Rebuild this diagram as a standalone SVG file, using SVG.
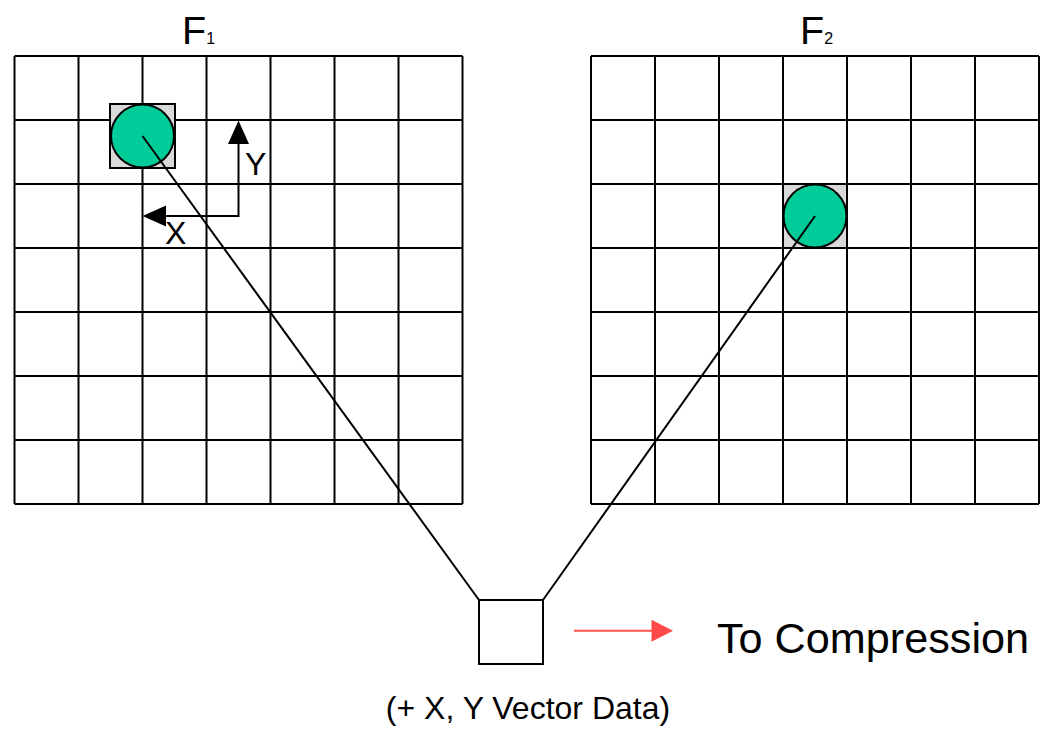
<svg xmlns="http://www.w3.org/2000/svg" width="1041" height="729" viewBox="0 0 1041 729">
<style>
.grid{stroke:#000;stroke-width:2;fill:none}
.cell{fill:#d9d9d9;stroke:#000;stroke-width:2}
.blob{fill:#00cc99;stroke:#000;stroke-width:2}
.conn{stroke:#000;stroke-width:2;fill:none}
text{font-family:"Liberation Sans",Arial,sans-serif;fill:#000}
</style>
<rect width="1041" height="729" fill="#fff"/>
<g id="frame1">
<path class="grid" d="M14.5 56H462.5M14.5 120H462.5M14.5 184H462.5M14.5 248H462.5M14.5 312H462.5M14.5 376H462.5M14.5 440H462.5M14.5 504H462.5M14.5 56V504M78.5 56V504M142.5 56V504M206.5 56V504M270.5 56V504M334.5 56V504M398.5 56V504M462.5 56V504"/>
<text x="182" y="44" font-size="39.5">F<tspan font-size="16">1</tspan></text>
<rect class="cell" x="110" y="104" width="65" height="64"/>
<circle class="blob" cx="142.5" cy="136" r="31.5"/>
</g>
<g id="frame2">
<path class="grid" d="M591 56H1039M591 120H1039M591 184H1039M591 248H1039M591 312H1039M591 376H1039M591 440H1039M591 504H1039M591 56V504M655 56V504M719 56V504M783 56V504M847 56V504M911 56V504M975 56V504M1039 56V504"/>
<text x="800" y="44" font-size="39.5">F<tspan font-size="16">2</tspan></text>
<rect class="cell" x="783" y="184" width="64" height="64"/>
<circle class="blob" cx="815" cy="216" r="31.5"/>
</g>
<g id="axes">
<path class="conn" d="M238.5 143V216H165"/>
<polygon points="238.5,120.5 228,144 249,144" fill="#000"/>
<polygon points="142.5,216 166,205.5 166,226.5" fill="#000"/>
<text x="245" y="175" font-size="32">Y</text>
<text x="165" y="244" font-size="32">X</text>
</g>
<g id="connectors">
<line class="conn" x1="142.5" y1="136" x2="479" y2="600"/>
<line class="conn" x1="815" y1="216" x2="543" y2="600"/>
</g>
<g id="vector">
<rect x="479" y="600" width="64" height="64" fill="#fff" stroke="#000" stroke-width="2"/>
<text x="528" y="718.5" font-size="32" text-anchor="middle">(+ X, Y Vector Data)</text>
</g>
<g id="output">
<line x1="574" y1="630.7" x2="653" y2="630.7" stroke="#ff5050" stroke-width="2"/>
<polygon points="673,630.7 651.5,619.7 651.5,641.7" fill="#ff4848"/>
<text x="717" y="653" font-size="43.2">To Compression</text>
</g>
</svg>
